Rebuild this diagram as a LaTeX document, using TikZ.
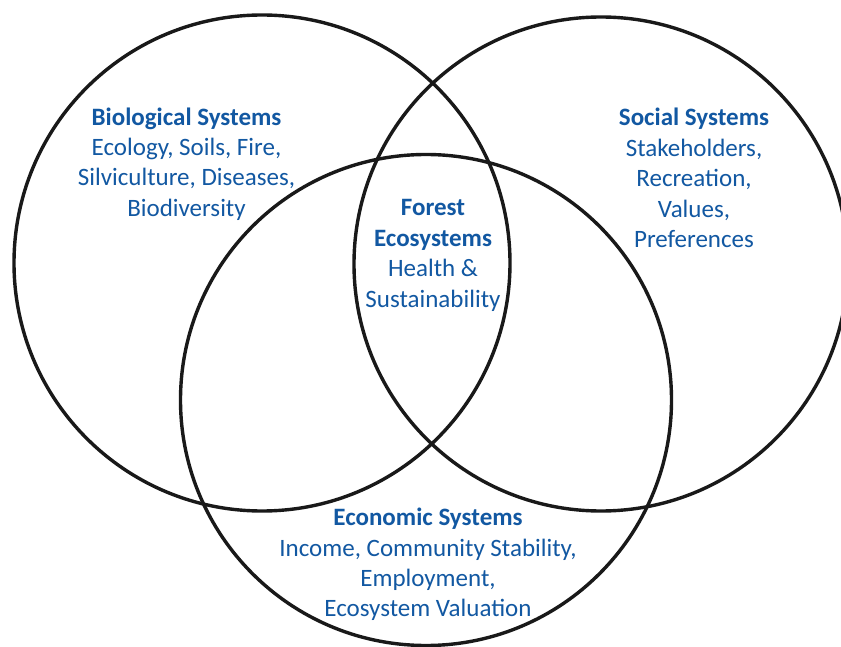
\documentclass[tikz,border=0pt]{standalone}
\usepackage{fontspec}
\setmainfont{Carlito}
\definecolor{txtblue}{RGB}{18,88,162}
\begin{document}
\begin{tikzpicture}[x=1pt,y=1pt,
  ring/.style={circle,draw=black!90,line width=3.4pt,inner sep=0pt},
  lbl/.style={align=center,text=txtblue,font=\fontsize{25}{30.4}\selectfont,inner sep=0pt}]
\useasboundingbox (0,0) rectangle (841,646);
\clip (0,0) rectangle (841,646);
\fill[white] (0,0) rectangle (841,646);
\node[ring,minimum size=496pt] (bio) at (262,383) {};
\node[ring,minimum size=494pt] (soc) at (601,382) {};
\node[ring,minimum size=491pt] (eco) at (426,246) {};
\node[lbl] (biot) at (186.5,482) {\textbf{Biological Systems}\\Ecology, Soils, Fire,\\Silviculture, Diseases,\\Biodiversity};
\node[lbl] (soct) at (694,468) {\textbf{Social Systems}\\Stakeholders,\\Recreation,\\Values,\\Preferences};
\node[lbl] (fort) at (433,390.5) {\textbf{Forest}\\\textbf{Ecosystems}\\Health \&\\Sustainability};
\node[lbl] (ecot) at (428,81.5) {\textbf{Economic Systems}\\Income, Community Stability,\\Employment,\\Ecosystem Valuation};
\end{tikzpicture}
\end{document}
